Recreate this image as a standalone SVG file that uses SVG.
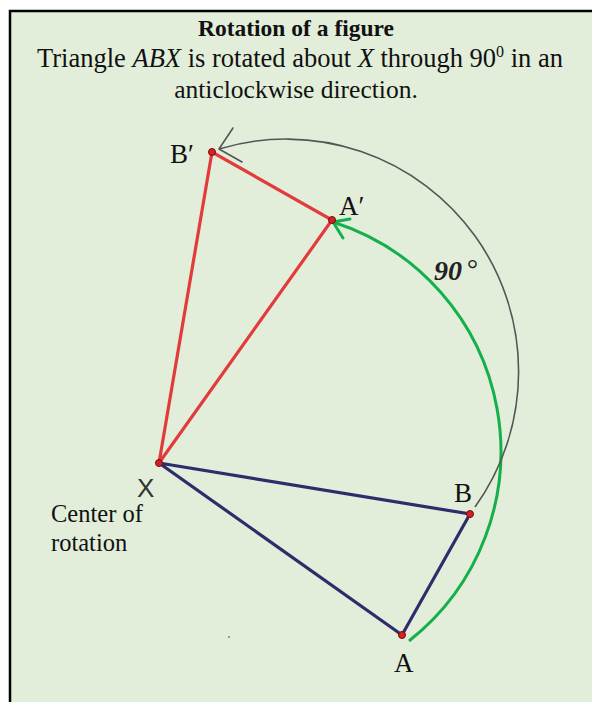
<svg xmlns="http://www.w3.org/2000/svg" width="592" height="702" viewBox="0 0 592 702">
<style>
.t{font-family:"Liberation Serif","Times New Roman",serif;fill:#111}
.lbl{font-family:"Liberation Serif","Times New Roman",serif;font-size:27px;fill:#111}
.blue{stroke:#2d2d6b;stroke-width:3.2;fill:none;stroke-linecap:round}
.red{stroke:#e23b3b;stroke-width:3.2;fill:none;stroke-linecap:round}
.pt{fill:#d42222;stroke:#7a0a0a;stroke-width:1}
</style>
<rect x="0" y="0" width="592" height="702" fill="#ffffff"/>
<rect x="10" y="11" width="582" height="691" fill="#e2eed9"/>
<path d="M10,702 V11 H592" fill="none" stroke="#000" stroke-width="2.5"/>
<g id="title">
<text class="t" x="296" y="36" font-size="23.5" font-weight="bold" text-anchor="middle">Rotation of a figure</text>
<text class="t" x="37" y="67" font-size="26.5">Triangle <tspan font-style="italic">ABX</tspan> is rotated about <tspan font-style="italic">X</tspan> through 90<tspan font-size="16" dy="-10">0</tspan><tspan dy="10"> in an</tspan></text>
<text class="t" x="296" y="98" font-size="25.5" text-anchor="middle">anticlockwise direction.</text>
</g>
<g id="connectors">
<path id="green-arc" d="M409,641 A241,241 0 0,0 333,222" fill="none" stroke="#14b04c" stroke-width="3"/>
<path d="M350,219 L333,222 L343,238" fill="none" stroke="#14b04c" stroke-width="3" stroke-linecap="round" stroke-linejoin="round"/>
<path id="gray-arc" d="M475,507 A232.4,232.4 0 0,0 219,149" fill="none" stroke="#555" stroke-width="1.6"/>
<path d="M233,128 L219,149 L242,162" fill="none" stroke="#555" stroke-width="1.6" stroke-linecap="round" stroke-linejoin="round"/>
</g>
<g id="triangle-ABX">
<path class="blue" d="M159,463 L470,514 L402,635 Z"/>
</g>
<g id="triangle-image">
<path class="red" d="M159,463 L212,152 L332,220 Z"/>
</g>
<g id="point-X"><circle class="pt" cx="159" cy="463" r="3.5"/><text x="137" y="497" font-family="Liberation Sans, Arial, sans-serif" font-size="26" fill="#333">X</text></g>
<g id="point-B"><circle class="pt" cx="470" cy="514" r="3.5"/><text class="lbl" x="454" y="502">B</text></g>
<g id="point-A"><circle class="pt" cx="402" cy="635" r="3.5"/><text class="lbl" x="394" y="672">A</text></g>
<g id="point-B1"><circle class="pt" cx="212" cy="152" r="3.5"/><text class="lbl" x="170" y="163">B′</text></g>
<g id="point-A1"><circle class="pt" cx="332" cy="220" r="3.5"/><text class="lbl" x="339" y="215">A′</text></g>
<g id="center-label">
<text class="t" x="51" y="522" font-size="24.5">Center of</text>
<text class="t" x="51" y="551" font-size="24.5">rotation</text>
</g>
<g id="angle-label">
<text x="434" y="280" font-family="Liberation Serif, serif" font-style="italic" font-weight="bold" font-size="28" fill="#222">90<tspan dx="4" dy="-2" font-weight="normal">°</tspan></text>
</g>
<circle cx="229" cy="637" r="0.8" fill="#333"/>
</svg>
